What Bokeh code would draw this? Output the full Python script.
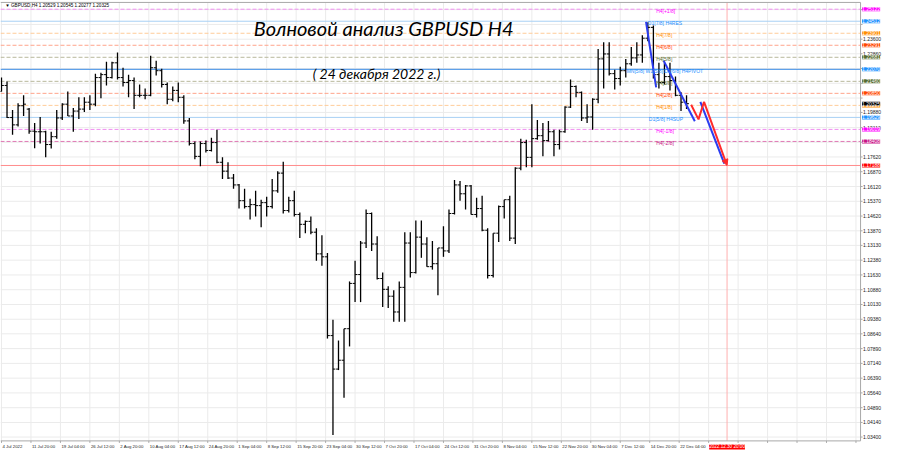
from bokeh.plotting import figure
from bokeh.models import Range1d, Label, Arrow, NormalHead
from bokeh.core.properties import value
from bokeh.embed import file_html
from bokeh.resources import INLINE

# ---------------- data (daily OHLC) ----------------
opens = [
1.2095,1.2125,1.1962,1.1925,1.2022, 1.2005,1.1893,1.1890,1.1890,1.1825,
1.1865,1.1960,1.2030,1.1970,1.1995, 1.2005,1.2040,1.2030,1.2165,1.2180,
1.2165,1.2240,1.2165,1.2140,1.2150, 1.2075,1.2075,1.2075,1.2215,1.2200,
1.2130,1.2055,1.2100,1.2065,1.1945, 1.1830,1.1765,1.1830,1.1795,1.1835,
1.1735,1.1690,1.1655,1.1620,1.1540, 1.1510,1.1520,1.1515,1.1530,1.1510,
1.1590,1.1680,1.1490,1.1540,1.1470, 1.1420,1.1435,1.1380,1.1270,1.1255,
1.0855,1.0685,1.0730,1.0890,1.1120, 1.1165,1.1325,1.1475,1.1320,1.1145,
1.1090,1.1055,1.0975,1.1100,1.1325, 1.1175,1.1355,1.1320,1.1205,1.1220,
1.1300,1.1285,1.1475,1.1620,1.1575, 1.1615,1.1470,1.1500,1.1390,1.1160,
1.1375,1.1510,1.1545,1.1350,1.1705, 1.1835,1.1760,1.1855,1.1870,1.1845,
1.1890,1.1825,1.1890,1.2015,1.2120, 1.2090,1.1960,1.1965,1.2055,1.2260,
1.2285,1.2185,1.2160,1.2200,1.2235, 1.2265,1.2280,1.2365,1.2420,1.2180,
1.2140,1.2170,1.2150,1.2075,1.2040]
highs = [
1.2165,1.2145,1.2000,1.2035,1.2075, 1.2010,1.1935,1.1965,1.1895,1.1890,
1.2000,1.2035,1.2095,1.2010,1.2065, 1.2065,1.2075,1.2185,1.2190,1.2245,
1.2245,1.2293,1.2215,1.2180,1.2165, 1.2130,1.2110,1.2276,1.2250,1.2210,
1.2140,1.2120,1.2140,1.2075,1.1960, 1.1840,1.1840,1.1845,1.1860,1.1900,
1.1760,1.1735,1.1675,1.1625,1.1600, 1.1550,1.1590,1.1545,1.1560,1.1650,
1.1690,1.1738,1.1560,1.1590,1.1480, 1.1440,1.1460,1.1400,1.1365,1.1275,
1.0935,1.0830,1.0890,1.1130,1.1235, 1.1335,1.1495,1.1480,1.1360,1.1175,
1.1105,1.1085,1.1130,1.1380,1.1380, 1.1440,1.1440,1.1355,1.1335,1.1300,
1.1410,1.1495,1.1645,1.1640,1.1620, 1.1620,1.1555,1.1565,1.1400,1.1375,
1.1515,1.1545,1.1565,1.1710,1.1855, 1.1850,1.2030,1.1950,1.1935,1.1945,
1.1900,1.1900,1.2020,1.2155,1.2125, 1.2095,1.2030,1.2060,1.2310,1.2345,
1.2345,1.2205,1.2220,1.2260,1.2320, 1.2345,1.2380,1.2446,1.2430,1.2240,
1.2240,1.2240,1.2170,1.2090,1.2075]
lows = [
1.2095,1.1960,1.1875,1.1917,1.1970, 1.1880,1.1806,1.1830,1.1760,1.1805,
1.1855,1.1950,1.1970,1.1890,1.1955, 1.1990,1.2000,1.2020,1.2060,1.2125,
1.2160,1.2155,1.2120,1.2065,1.2005, 1.2065,1.2055,1.2070,1.2175,1.2115,
1.2030,1.2045,1.2040,1.1930,1.1820, 1.1750,1.1715,1.1785,1.1790,1.1730,
1.1650,1.1650,1.1600,1.1500,1.1500, 1.1445,1.1460,1.1405,1.1460,1.1500,
1.1580,1.1475,1.1480,1.1460,1.1350, 1.1375,1.1370,1.1235,1.1210,1.0840,
1.0350,1.0680,1.0540,1.0800,1.1025, 1.1025,1.1300,1.1285,1.1140,1.1000,
1.0995,1.0925,1.0925,1.0925,1.1150, 1.1170,1.1250,1.1205,1.1190,1.1060,
1.1255,1.1275,1.1470,1.1540,1.1495, 1.1470,1.1455,1.1385,1.1145,1.1150,
1.1330,1.1450,1.1335,1.1320,1.1695, 1.1710,1.1710,1.1850,1.1765,1.1840,
1.1765,1.1800,1.1885,1.2010,1.2065, 1.1945,1.1935,1.1900,1.2035,1.2110,
1.2175,1.2105,1.2125,1.2165,1.2225, 1.2240,1.2240,1.2350,1.2160,1.2110,
1.2130,1.2100,1.2070,1.1995,1.2005]
closes = [
1.2125,1.1962,1.1925,1.2022,1.2030, 1.1893,1.1890,1.1890,1.1825,1.1865,
1.1960,1.2030,1.1970,1.1995,1.2005, 1.2040,1.2030,1.2165,1.2180,1.2165,
1.2240,1.2165,1.2140,1.2150,1.2075, 1.2075,1.2075,1.2215,1.2200,1.2130,
1.2055,1.2100,1.2065,1.1945,1.1830, 1.1765,1.1830,1.1795,1.1835,1.1735,
1.1690,1.1655,1.1620,1.1540,1.1510, 1.1520,1.1515,1.1530,1.1510,1.1590,
1.1680,1.1490,1.1540,1.1470,1.1420, 1.1435,1.1380,1.1270,1.1255,1.0855,
1.0685,1.0730,1.0890,1.1120,1.1165, 1.1325,1.1475,1.1320,1.1145,1.1090,
1.1055,1.0975,1.1100,1.1325,1.1175, 1.1355,1.1320,1.1205,1.1220,1.1300,
1.1285,1.1475,1.1620,1.1575,1.1615, 1.1470,1.1500,1.1390,1.1160,1.1375,
1.1510,1.1545,1.1350,1.1705,1.1835, 1.1760,1.1855,1.1870,1.1845,1.1890,
1.1825,1.1890,1.2015,1.2120,1.2090, 1.1960,1.1965,1.2055,1.2260,1.2285,
1.2185,1.2160,1.2200,1.2235,1.2265, 1.2280,1.2365,1.2420,1.2180,1.2140,
1.2170,1.2150,1.2075,1.2040,1.20325]

BARS_PER_DAY = 6  # H4 bars per trading day

x_tick_bars = [3 + 32 * k for k in range(30)]
x_tick_labels = ["4 Jul 2022", "11 Jul 20:00", "19 Jul 04:00", "26 Jul 12:00", "2 Aug 20:00",
                 "10 Aug 04:00", "17 Aug 12:00", "24 Aug 20:00", "1 Sep 04:00", "8 Sep 12:00",
                 "15 Sep 20:00", "23 Sep 04:00", "30 Sep 12:00", "7 Oct 20:00", "17 Oct 04:00",
                 "24 Oct 12:00", "31 Oct 20:00", "8 Nov 04:00", "15 Nov 12:00", "22 Nov 20:00",
                 "30 Nov 04:00", "7 Dec 12:00", "14 Dec 20:00", "22 Dec 04:00",
                 "", "", "", "", "", ""]

y_tick_vals = [1.0340, 1.0414, 1.0489, 1.0564, 1.0639, 1.0714, 1.0789, 1.0864, 1.0938, 1.1013,
               1.1088, 1.1163, 1.1238, 1.1313, 1.1387, 1.1462, 1.1537, 1.1612, 1.1687, 1.1762,
               1.1837, 1.1911, 1.1988, 1.2061, 1.2136, 1.2211, 1.2286, 1.2360, 1.2435, 1.2510]
y_tick_labels = ["1.03400", "1.04140", "1.04890", "1.05640", "1.06390", "1.07140", "1.07890",
                 "1.08640", "1.09380", "1.10130", "1.10880", "1.11630", "1.12380", "1.13130",
                 "1.13870", "1.14620", "1.15370", "1.16120", "1.16870", "1.17620",
                 "", "1.19110", "1.19880", "", "", "", "1.22860", "1.23600", "", ""]

# Murrey levels
level_prices = [1.25122, 1.24512, 1.23901, 1.23291, 1.22681, 1.22070,
                1.21460, 1.20850, 1.20239, 1.19629, 1.19019, 1.18408]
level_names = ["H4[+1/8]", "D1[7/8] H4RES", "H4[7/8]", "H4[6/8]", "H4[5/8]",
               "MN[5/8] W1[5/8] D1[6/8] H4PIVOT", "H4[3/8]", "H4[2/8]", "H4[1/8]",
               "D1[5/8] H4SUP", "H4[-1/8]", "H4[-2/8]"]
level_text_bar = [714, 705, 714, 714, 714, 682, 714, 714, 714, 706, 714, 714]
current_price = 1.20325
target_price = 1.17188
target_bar = 791
target_time = "2022.12.30 20:00"
header = "\u25BC GBPUSD,H4  1.20529 1.20545 1.20277 1.20325"
title = "Волновой анализ GBPUSD H4"
subtitle = "( 24 декабря 2022 г.)"

# wave forecast (bar index, price)
blue_x = [[703, 714], [722, 756], [762, 788]]
blue_y = [[1.2448, 1.2115], [1.2252, 1.1943], [1.2042, 1.1728]]
red_x = [752, 760, 766, 791]
red_y = [1.2027, 1.1953, 1.2042, 1.17188]

# ---------------- styles / layout ----------------
label_bg = ["#ff00ff", "#1e90ff", "#ff8c00", "#ff4500", "#556b2f", "#1e90ff",
            "#556b2f", "#ff4500", "#ff8c00", "#1e90ff", "#ff00ff", "#c71585"]
line_col = ["#f08ff0", "#a8d0f4", "#ffcc99", "#ffa58c", "#b8b89c", "#3c8ce6",
            "#b8b89c", "#ffa58c", "#ffcc99", "#a8d0f4", "#f08ff0", "#e07ab4"]
solid = {1, 5, 9}

# whole canvas is the frame; chart area and axis strips are drawn inside it
X0, X1 = 1.92, 962.0          # canvas x range (bar units)
Y0, Y1 = 1.02615, 1.25564     # canvas y range (price units)
XB = 936.0                    # right border of the chart area
YB, YT = 1.03204, 1.25466     # bottom / top border of the chart area
BPX = (X1 - X0) / 884         # bars per screen px
PPX = (Y1 - Y0) / 452         # price per screen px
SMALL = value("Liberation Sans")

p = figure(width=884, height=452, output_backend="svg", toolbar_location=None,
           x_range=Range1d(X0, X1), y_range=Range1d(Y0, Y1),
           x_axis_location=None, y_axis_location=None,
           min_border_left=0, min_border_top=0, min_border_right=0, min_border_bottom=0)
p.grid.visible = False
p.outline_line_color = None
p.background_fill_color = "white"
p.border_fill_color = "white"

# grid
xg = [t for t in x_tick_bars if t < XB]
p.segment(x0=xg, y0=[YB] * len(xg), x1=xg, y1=[YT] * len(xg), line_color="#ebebeb", line_width=1)
p.segment(x0=[X0] * len(y_tick_vals), y0=y_tick_vals, x1=[XB] * len(y_tick_vals), y1=y_tick_vals,
          line_color="#ebebeb", line_width=1)

# level lines
for i, lp in enumerate(level_prices):
    p.line(x=[X0, XB], y=[lp, lp], line_color=line_col[i], line_width=1,
           line_dash="solid" if i in solid else "4 2")
p.line(x=[X0, XB], y=[target_price, target_price], line_color="#ff8c8c", line_width=1)
p.line(x=[target_bar, target_bar], y=[YB, YT], line_color="#ffb0b0", line_width=1)

# chart border and ticks
p.line(x=[X0, XB, XB], y=[YT, YT, YB], line_color="#a8a8a8", line_width=1)
p.line(x=[X0, XB], y=[YB, YB], line_color="#a8a8a8", line_width=1)
p.segment(x0=[XB] * len(y_tick_vals), y0=y_tick_vals, x1=[XB + 2 * BPX] * len(y_tick_vals),
          y1=y_tick_vals, line_color="#a8a8a8")
p.segment(x0=xg, y0=[YB] * len(xg), x1=xg, y1=[YB - 2 * PPX] * len(xg), line_color="#a8a8a8")

# axis tick labels (text)
p.text(x=[XB + 2.5 * BPX] * len(y_tick_vals), y=y_tick_vals, text=y_tick_labels,
       text_font=SMALL, text_font_size="5px", text_color="#222222", text_baseline="middle")
p.text(x=[t + 1 * BPX for t in x_tick_bars], y=[YB - 6 * PPX] * len(x_tick_bars), text=x_tick_labels,
       text_font=SMALL, text_font_size="4.3px", text_color="#222222", text_baseline="middle")

# price bars
xc = [d * BARS_PER_DAY + 3 for d in range(len(closes))]
p.segment(x0=xc, y0=lows, x1=xc, y1=highs, line_color="black", line_width=1.3)
p.segment(x0=[x - 2.6 for x in xc], y0=opens, x1=xc, y1=opens, line_color="black", line_width=1)
p.segment(x0=xc, y0=closes, x1=[x + 2.6 for x in xc], y1=closes, line_color="black", line_width=1)

# wave forecast
p.multi_line(xs=blue_x, ys=blue_y, line_color="#2b3cf0", line_width=2)
p.line(x=red_x[:-1], y=red_y[:-1], line_color="#ff2a2a", line_width=2)
p.add_layout(Arrow(x_start=red_x[-2], y_start=red_y[-2], x_end=red_x[-1], y_end=red_y[-1],
                   line_color="#ff2a2a", line_width=2,
                   end=NormalHead(size=6, fill_color="#ff2a2a", line_color="#ff2a2a")))

# level texts on chart
p.text(x=level_text_bar, y=level_prices, text=level_names, text_color=label_bg,
       text_font=SMALL, text_font_size="5px", text_baseline="middle", y_offset=2)

# right-axis price labels
XL = XB + 1.5 * BPX
for i, lp in enumerate(level_prices):
    p.add_layout(Label(x=XL, y=lp, text=f"{lp:.5f}", text_color="white",
                       text_font="Liberation Sans", text_font_size="5px",
                       text_baseline="middle", background_fill_color=label_bg[i]))
p.add_layout(Label(x=XL, y=current_price, text=f"{current_price:.5f}", text_color="white",
                   text_font="Liberation Sans", text_font_size="5px", text_baseline="middle",
                   background_fill_color="black"))
p.add_layout(Label(x=XL, y=target_price, text=f"{target_price:.5f}", text_color="white",
                   text_font="Liberation Sans", text_font_size="5px", text_baseline="middle",
                   background_fill_color="#ff0000"))

# time label of the vertical line
p.add_layout(Label(x=target_bar, y=YB - 6 * PPX, text=target_time, text_color="white",
                   text_font="Liberation Sans", text_font_size="4.6px", text_baseline="middle",
                   text_align="center", background_fill_color="#ff0000"))

# header and titles
p.add_layout(Label(x=7, y=YT - 3 * PPX, text=header, text_color="black",
                   text_font="Liberation Sans", text_font_size="4.6px", text_baseline="middle"))
p.add_layout(Label(x=277, y=1.2419, text=title, text_color="black",
                   text_font="Lato", text_font_style="italic", text_font_size="20px",
                   text_baseline="middle"))
p.add_layout(Label(x=341, y=1.2184, text=subtitle, text_color="black",
                   text_font="Lato", text_font_style="italic", text_font_size="14px",
                   text_baseline="middle"))

open("out.html", "w").write(file_html(p, INLINE))
